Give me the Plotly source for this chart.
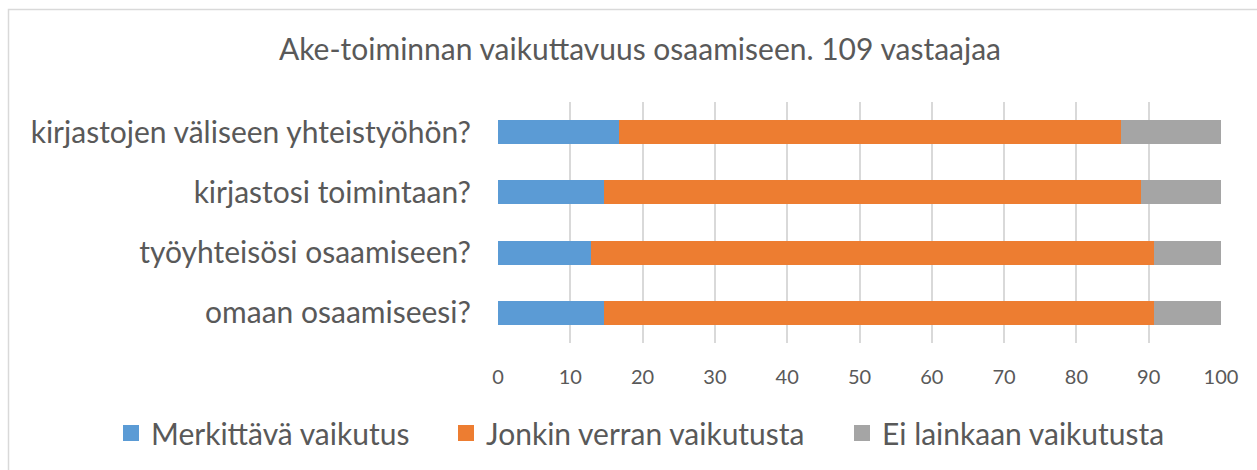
import plotly.graph_objects as go

categories = ["omaan osaamiseesi?", "työyhteisösi osaamiseen?", "kirjastosi toimintaan?",
              "kirjastojen väliseen yhteistyöhön?"]
merkittava = [14.7, 12.8, 14.7, 16.8]
jonkin = [76.1, 78.0, 74.3, 69.3]
ei_lainkaan = [9.2, 9.2, 11.0, 13.9]
series_names = ["Merkittävä vaikutus", "Jonkin verran vaikutusta", "Ei lainkaan vaikutusta"]
colors = ["#5B9BD5", "#ED7D31", "#A5A5A5"]
title_text = "Ake-toiminnan vaikuttavuus osaamiseen. 109 vastaajaa"
x_ticks = list(range(0, 101, 10))

FONT = "Lato, 'Open Sans', sans-serif"
TXT = "#595959"

W, H = 1257, 470
ml, mr, mt, mb = 498, 36, 102, 127
pw, ph = W - ml - mr, H - mt - mb

def px(xp):
    return (xp - ml) / pw

def py(yp):
    return (H - mb - yp) / ph

legend_ids = ["legend", "legend2", "legend3"]
legend_text_x = [152, 487, 883]

fig = go.Figure()
for name, vals, col in zip(series_names, [merkittava, jonkin, ei_lainkaan], colors):
    fig.add_trace(go.Bar(y=categories, x=vals, name=name, orientation="h", showlegend=False,
                         marker=dict(color=col, line=dict(width=0))))
# legend-only entries with larger square swatches
for name, col, lid in zip(series_names, colors, legend_ids):
    fig.add_trace(go.Scatter(x=[None], y=[None], mode="markers", name=name, legend=lid,
                             marker=dict(symbol="square", size=16, color=col), hoverinfo="skip"))

legend_common = dict(orientation="h", xanchor="left", yanchor="middle", y=py(433),
                     font=dict(size=30, color=TXT), itemwidth=30, bgcolor="rgba(0,0,0,0)")

fig.update_layout(
    width=W, height=H,
    margin=dict(l=ml, r=mr, t=mt, b=mb, pad=0, autoexpand=False),
    barmode="stack", bargap=0.6,
    plot_bgcolor="white", paper_bgcolor="white",
    font=dict(family=FONT, color=TXT),
    title=dict(text=title_text, x=640 / W, xanchor="center", y=1 - 49 / H, yanchor="middle",
               font=dict(size=30, color=TXT, family=FONT)),
    xaxis=dict(range=[0, 100], tickvals=x_ticks, showgrid=True, gridcolor="#D9D9D9", gridwidth=1.5,
               zeroline=False, showline=False, tickfont=dict(size=20, color=TXT), ticks="",
               ticklabelstandoff=20),
    yaxis=dict(categoryorder="array", categoryarray=categories, showgrid=False, zeroline=False,
               showline=False, ticks="", tickfont=dict(size=30, color=TXT), ticklabelstandoff=26),
    legend=dict(x=px(legend_text_x[0] - 41), **legend_common),
    legend2=dict(x=px(legend_text_x[1] - 41), **legend_common),
    legend3=dict(x=px(legend_text_x[2] - 41), **legend_common),
    showlegend=True,
)
fig.add_shape(type="rect", xref="paper", yref="paper", x0=px(8.5), x1=px(1265), y0=py(9.5), y1=py(480),
              line=dict(color="#D9D9D9", width=1.5), fillcolor="rgba(0,0,0,0)", layer="below")

fig.write_html("out.html", config={"displayModeBar": False},
               post_script="document.body.style.margin='0';document.body.style.overflow='hidden';")
